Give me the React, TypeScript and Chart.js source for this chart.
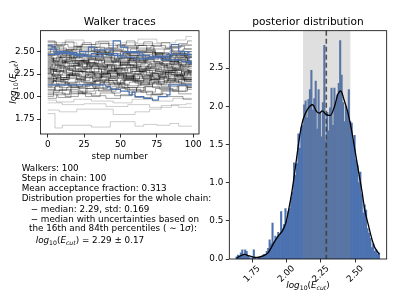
import React, { useEffect, useRef } from "react";
import { Chart, registerables } from "chart.js";

Chart.register(...registerables);

// ---------- Walker traces (left panel) ----------
const lastStep = 99;
const traceXTicks = [0, 25, 50, 75, 100];
const traceYTicks = [1.75, 2.0, 2.25, 2.5];

// each walker: [step, value, step, value, ...] (value changes at accepted moves)
const walkersDark: number[][] = [
  [0, 2.31, 4, 2.28, 11, 2.33, 19, 2.3, 27, 2.36, 38, 2.34, 46, 2.29, 55, 2.32, 63, 2.27, 74, 2.3, 86, 2.35, 93, 2.33],
  [0, 2.22, 6, 2.19, 13, 2.24, 22, 2.21, 31, 2.17, 40, 2.2, 52, 2.23, 60, 2.18, 71, 2.21, 80, 2.16, 90, 2.19],
  [0, 2.45, 3, 2.42, 9, 2.46, 18, 2.4, 25, 2.43, 37, 2.47, 44, 2.44, 57, 2.41, 66, 2.45, 78, 2.42, 88, 2.46, 95, 2.43],
  [0, 2.12, 7, 2.15, 15, 2.11, 24, 2.14, 33, 2.18, 45, 2.15, 53, 2.12, 64, 2.16, 75, 2.13, 84, 2.17, 92, 2.14],
  [0, 2.38, 5, 2.35, 12, 2.39, 21, 2.36, 29, 2.32, 41, 2.35, 50, 2.38, 61, 2.34, 70, 2.37, 82, 2.33, 91, 2.36],
  [0, 2.05, 8, 2.08, 16, 2.04, 26, 2.09, 35, 2.06, 47, 2.1, 56, 2.07, 67, 2.11, 77, 2.08, 89, 2.12],
  [0, 2.52, 4, 2.49, 14, 2.53, 23, 2.5, 34, 2.47, 42, 2.51, 54, 2.48, 62, 2.52, 73, 2.49, 83, 2.46, 94, 2.5],
  [0, 2.27, 3, 2.24, 10, 2.27, 17, 2.23, 28, 2.26, 36, 2.22, 48, 2.25, 58, 2.28, 68, 2.24, 79, 2.27, 87, 2.23, 96, 2.26],
  [0, 2.18, 6, 2.21, 14, 2.25, 23, 2.22, 32, 2.26, 43, 2.23, 51, 2.19, 63, 2.22, 72, 2.26, 85, 2.24, 93, 2.2],
  [0, 2.42, 5, 2.39, 13, 2.43, 20, 2.46, 30, 2.42, 39, 2.39, 49, 2.43, 59, 2.4, 69, 2.44, 81, 2.41, 90, 2.38],
  [0, 2.35, 9, 2.31, 17, 2.28, 26, 2.31, 37, 2.27, 46, 2.3, 55, 2.26, 65, 2.29, 76, 2.32, 88, 2.29],
  [0, 2.08, 5, 2.12, 12, 2.16, 22, 2.13, 31, 2.1, 42, 2.14, 50, 2.18, 60, 2.15, 70, 2.19, 80, 2.22, 92, 2.18],
  [0, 2.48, 7, 2.44, 16, 2.4, 25, 2.37, 35, 2.41, 44, 2.38, 56, 2.42, 66, 2.39, 77, 2.36, 87, 2.4, 97, 2.37],
  [0, 2.25, 4, 2.29, 11, 2.26, 21, 2.31, 30, 2.34, 40, 2.31, 49, 2.35, 60, 2.38, 71, 2.35, 82, 2.31, 91, 2.34],
  [0, 1.98, 6, 2.02, 15, 2.06, 24, 2.03, 33, 2.07, 44, 2.11, 53, 2.08, 64, 2.05, 74, 2.09, 86, 2.06, 95, 2.1],
  [0, 2.58, 5, 2.54, 13, 2.5, 22, 2.53, 32, 2.49, 43, 2.52, 52, 2.55, 61, 2.51, 72, 2.48, 84, 2.51, 94, 2.47],
  [0, 2.3, 8, 2.34, 18, 2.38, 27, 2.34, 38, 2.3, 47, 2.26, 57, 2.3, 67, 2.33, 78, 2.29, 89, 2.25],
  [0, 2.15, 4, 2.18, 12, 2.14, 20, 2.11, 29, 2.14, 39, 2.18, 48, 2.21, 58, 2.17, 69, 2.14, 80, 2.18, 90, 2.15],
  [0, 2.4, 6, 2.44, 15, 2.48, 25, 2.45, 34, 2.49, 45, 2.46, 54, 2.43, 65, 2.47, 75, 2.44, 85, 2.48, 96, 2.45],
  [0, 2.2, 5, 2.17, 14, 2.2, 23, 2.16, 33, 2.19, 42, 2.15, 52, 2.18, 62, 2.14, 73, 2.17, 83, 2.2, 94, 2.17],
  [0, 2.33, 3, 2.36, 10, 2.4, 19, 2.37, 28, 2.41, 37, 2.38, 47, 2.42, 57, 2.39, 67, 2.43, 79, 2.4, 88, 2.44],
  [0, 2.02, 7, 1.99, 16, 2.03, 26, 2.0, 36, 2.04, 46, 2.01, 58, 2.05, 68, 2.02, 79, 2.06, 90, 2.03],
  [0, 2.55, 8, 2.51, 17, 2.47, 26, 2.5, 36, 2.54, 45, 2.5, 55, 2.46, 64, 2.49, 74, 2.45, 86, 2.48, 95, 2.44],
  [0, 2.28, 6, 2.32, 14, 2.29, 24, 2.25, 33, 2.21, 43, 2.24, 52, 2.2, 63, 2.23, 73, 2.2, 84, 2.24, 93, 2.21],
  [0, 2.44, 4, 2.4, 12, 2.37, 21, 2.33, 31, 2.36, 41, 2.32, 50, 2.35, 61, 2.31, 71, 2.34, 82, 2.37, 92, 2.34],
  [0, 2.1, 5, 2.07, 13, 2.1, 22, 2.06, 32, 2.09, 41, 2.13, 51, 2.1, 62, 2.13, 72, 2.1, 83, 2.14, 95, 2.11],
  [0, 2.37, 7, 2.41, 15, 2.44, 24, 2.41, 34, 2.45, 43, 2.42, 53, 2.46, 63, 2.5, 74, 2.47, 84, 2.44, 94, 2.47],
  [0, 2.24, 5, 2.21, 13, 2.24, 22, 2.28, 31, 2.25, 41, 2.28, 51, 2.32, 61, 2.29, 72, 2.26, 81, 2.29, 92, 2.25],
  [0, 2.5, 6, 2.47, 16, 2.44, 25, 2.47, 35, 2.43, 46, 2.4, 56, 2.44, 66, 2.41, 76, 2.44, 87, 2.41, 97, 2.44],
  [0, 2.14, 3, 2.17, 11, 2.21, 20, 2.18, 29, 2.22, 38, 2.26, 49, 2.23, 59, 2.2, 70, 2.24, 81, 2.27, 91, 2.23],
  [0, 2.46, 9, 2.43, 19, 2.4, 28, 2.37, 39, 2.4, 49, 2.36, 59, 2.33, 69, 2.36, 79, 2.39, 90, 2.36],
  [0, 2.0, 4, 2.04, 12, 2.0, 21, 2.04, 30, 2.01, 40, 1.98, 50, 2.02, 60, 1.99, 71, 2.03, 82, 2.0, 93, 1.97],
  [0, 2.62, 5, 2.58, 14, 2.55, 23, 2.58, 33, 2.61, 42, 2.57, 53, 2.54, 62, 2.57, 73, 2.53, 84, 2.56, 94, 2.53],
  [0, 2.2, 7, 2.24, 17, 2.28, 27, 2.24, 37, 2.28, 47, 2.32, 57, 2.28, 67, 2.31, 77, 2.27, 88, 2.3, 97, 2.27],
  [0, 2.32, 5, 2.28, 13, 2.31, 23, 2.27, 32, 2.23, 42, 2.26, 52, 2.22, 62, 2.25, 72, 2.22, 82, 2.25, 92, 2.28],
  [0, 2.41, 4, 2.38, 14, 2.34, 24, 2.38, 34, 2.34, 44, 2.31, 54, 2.34, 64, 2.31, 74, 2.28, 86, 2.31, 96, 2.29],
  [0, 2.17, 6, 2.13, 16, 2.1, 26, 2.13, 36, 2.16, 46, 2.13, 56, 2.16, 66, 2.19, 76, 2.16, 87, 2.19],
  [0, 2.53, 3, 2.56, 11, 2.52, 20, 2.55, 30, 2.51, 40, 2.54, 51, 2.57, 61, 2.54, 71, 2.57, 81, 2.54, 91, 2.57],
  [0, 2.26, 2, 2.3, 6, 2.27, 9, 2.33, 15, 2.29, 19, 2.35, 24, 2.31, 29, 2.27, 35, 2.32, 41, 2.36, 47, 2.31, 53, 2.27, 58, 2.33, 64, 2.37, 69, 2.32, 75, 2.28, 80, 2.34, 86, 2.3, 92, 2.26, 97, 2.31],
  [0, 2.43, 3, 2.39, 8, 2.44, 13, 2.49, 18, 2.44, 23, 2.4, 29, 2.45, 34, 2.5, 40, 2.46, 46, 2.42, 51, 2.47, 57, 2.43, 63, 2.38, 68, 2.43, 74, 2.47, 79, 2.42, 85, 2.38, 91, 2.43, 96, 2.4],
  [0, 2.16, 4, 2.2, 9, 2.16, 14, 2.12, 20, 2.17, 25, 2.21, 31, 2.17, 36, 2.22, 42, 2.18, 48, 2.14, 53, 2.19, 59, 2.24, 65, 2.2, 71, 2.16, 77, 2.21, 83, 2.25, 89, 2.21, 95, 2.17],
  [0, 2.36, 3, 2.33, 7, 2.37, 12, 2.41, 17, 2.37, 22, 2.33, 27, 2.38, 33, 2.34, 39, 2.29, 44, 2.34, 50, 2.39, 56, 2.35, 62, 2.4, 67, 2.44, 73, 2.39, 78, 2.35, 84, 2.39, 90, 2.34, 95, 2.38],
  [0, 2.07, 5, 2.11, 10, 2.07, 16, 2.13, 21, 2.09, 27, 2.14, 32, 2.18, 38, 2.14, 43, 2.09, 49, 2.14, 55, 2.1, 61, 2.06, 66, 2.11, 72, 2.15, 78, 2.11, 84, 2.07, 90, 2.12, 96, 2.08],
  [0, 2.49, 2, 2.53, 7, 2.48, 12, 2.52, 18, 2.56, 23, 2.51, 28, 2.55, 34, 2.51, 40, 2.47, 45, 2.52, 51, 2.48, 57, 2.53, 62, 2.57, 68, 2.52, 74, 2.48, 80, 2.53, 86, 2.49, 93, 2.53],
  [0, 2.29, 4, 2.25, 9, 2.21, 15, 2.26, 21, 2.22, 26, 2.27, 32, 2.31, 37, 2.26, 43, 2.22, 48, 2.27, 54, 2.23, 60, 2.28, 66, 2.24, 71, 2.2, 77, 2.25, 83, 2.29, 88, 2.24, 94, 2.28],
  [0, 2.21, 3, 2.25, 8, 2.29, 13, 2.24, 19, 2.28, 25, 2.33, 30, 2.28, 36, 2.24, 41, 2.29, 47, 2.25, 53, 2.2, 58, 2.25, 64, 2.3, 70, 2.26, 76, 2.22, 81, 2.27, 87, 2.32, 93, 2.27, 98, 2.23],
  [0, 2.39, 4, 2.43, 10, 2.38, 15, 2.34, 21, 2.39, 27, 2.35, 32, 2.4, 38, 2.44, 44, 2.39, 50, 2.35, 55, 2.4, 61, 2.36, 67, 2.41, 72, 2.45, 78, 2.4, 84, 2.36, 89, 2.41, 95, 2.37],
  [0, 2.11, 3, 2.14, 8, 2.1, 14, 2.15, 19, 2.19, 25, 2.15, 31, 2.11, 36, 2.16, 42, 2.2, 47, 2.16, 53, 2.21, 59, 2.17, 64, 2.13, 70, 2.18, 76, 2.14, 82, 2.19, 87, 2.23, 93, 2.19],
  [0, 2.56, 5, 2.52, 11, 2.48, 16, 2.52, 22, 2.47, 28, 2.51, 33, 2.55, 39, 2.5, 45, 2.46, 50, 2.5, 56, 2.46, 62, 2.5, 68, 2.54, 73, 2.49, 79, 2.45, 85, 2.5, 91, 2.46, 96, 2.5],
  [0, 2.03, 4, 2.07, 10, 2.03, 16, 2.08, 21, 2.04, 27, 2.09, 33, 2.13, 38, 2.08, 44, 2.04, 50, 2.09, 55, 2.05, 61, 2.1, 67, 2.06, 72, 2.02, 78, 2.07, 84, 2.11, 90, 2.06, 96, 2.1],
  [0, 2.34, 2, 2.3, 7, 2.34, 12, 2.3, 18, 2.35, 23, 2.39, 29, 2.34, 35, 2.3, 40, 2.35, 46, 2.31, 51, 2.36, 57, 2.32, 63, 2.28, 68, 2.33, 74, 2.37, 80, 2.32, 85, 2.36, 91, 2.32, 97, 2.36],
  [0, 2.46, 5, 2.5, 10, 2.46, 16, 2.42, 22, 2.46, 27, 2.42, 33, 2.47, 38, 2.43, 44, 2.48, 50, 2.44, 55, 2.4, 61, 2.45, 66, 2.49, 72, 2.45, 78, 2.41, 84, 2.46, 89, 2.42, 95, 2.46],
  [0, 2.19, 4, 2.23, 9, 2.19, 15, 2.24, 20, 2.2, 26, 2.16, 32, 2.21, 37, 2.25, 43, 2.21, 49, 2.26, 54, 2.22, 60, 2.18, 66, 2.23, 71, 2.19, 77, 2.24, 83, 2.2, 88, 2.16, 94, 2.21],
  [0, 2.61, 6, 2.57, 12, 2.61, 18, 2.56, 24, 2.6, 30, 2.55, 36, 2.59, 42, 2.54, 48, 2.58, 54, 2.62, 60, 2.57, 66, 2.61, 72, 2.56, 78, 2.6, 84, 2.55, 90, 2.59, 96, 2.62],
  [0, 2.26, 3, 2.23, 9, 2.19, 14, 2.23, 20, 2.19, 26, 2.24, 31, 2.2, 37, 2.25, 42, 2.29, 48, 2.24, 54, 2.2, 59, 2.25, 65, 2.21, 71, 2.26, 76, 2.22, 82, 2.18, 88, 2.23, 94, 2.27],
  [0, 2.31, 5, 2.35, 11, 2.39, 16, 2.35, 22, 2.4, 28, 2.44, 33, 2.4, 39, 2.36, 45, 2.41, 50, 2.37, 56, 2.42, 62, 2.46, 67, 2.42, 73, 2.38, 79, 2.43, 84, 2.39, 90, 2.44, 96, 2.4],
];

const walkersLight: number[][] = [
  [0, 1.81, 5, 1.65, 10, 1.68, 30, 1.66, 43, 1.72, 60, 1.67, 66, 1.69, 75, 1.68, 84, 1.7, 90, 1.67],
  [0, 1.93, 10, 1.91, 25, 1.92, 40, 1.89, 55, 1.91, 70, 1.88, 85, 1.91, 95, 1.92],
  [0, 1.85, 8, 1.83, 20, 1.86, 45, 1.8, 60, 1.83, 70, 1.86, 78, 1.9, 90, 1.88],
  [0, 2.6, 12, 2.63, 25, 2.58, 35, 2.62, 50, 2.6, 62, 2.64, 75, 2.6, 88, 2.63, 95, 2.67],
  [0, 1.96, 6, 1.94, 18, 1.97, 30, 1.95, 45, 1.93, 58, 1.97, 72, 1.95, 86, 1.98],
  [0, 2.57, 10, 2.6, 20, 2.56, 33, 2.59, 47, 2.56, 60, 2.59, 78, 2.55, 92, 2.58],
];

const walkersBlue: number[][] = [
  [0, 2.57, 3, 2.55, 5, 2.48, 18, 2.46, 22, 2.5, 28, 2.55, 32, 2.52, 45, 2.62, 50, 2.55, 55, 2.5, 63, 2.46, 70, 2.44, 85, 2.58, 90, 2.5, 97, 2.37],
  [0, 2.47, 8, 2.49, 20, 2.45, 30, 2.48, 42, 2.46, 52, 2.49, 65, 2.43, 78, 2.41, 92, 2.39],
  [0, 2.53, 6, 2.5, 15, 2.47, 27, 2.45, 38, 2.48, 48, 2.44, 60, 2.42, 72, 2.45, 82, 2.47, 93, 2.47],
  [0, 2.13, 40, 2.11, 43, 2.08, 50, 2.06, 56, 2.02, 58, 2.05, 60, 2.0, 66, 1.98, 72, 1.96, 76, 2.0, 82, 2.02, 84, 2.13],
];

// ---------- Posterior distribution (right panel) ----------
const histStart = 1.6325;
const histBinWidth = 0.01046;
const histDensity = [
  0.03, 0.05, 0.03, 0.08, 0.12, 0.06, 0.12, 0.1, 0.04, 0.02,
  0.0, 0.02, 0.12, 0.02, 0.0, 0.02, 0.03, 0.02, 0.04, 0.06,
  0.05, 0.1, 0.14, 0.25, 0.2, 0.47, 0.22, 0.3, 0.28, 0.35,
  0.3, 0.62, 0.4, 0.45, 0.66, 0.5, 0.62, 0.66, 0.8, 0.88,
  1.26, 1.1, 1.25, 1.64, 1.45, 1.72, 1.75, 2.02, 2.07, 1.85,
  2.09, 2.22, 2.47, 1.95, 2.1, 2.33, 1.7, 2.22, 1.92, 1.6,
  2.05, 2.8, 1.55, 1.92, 1.68, 1.98, 2.24, 1.75, 2.24, 2.05,
  2.15, 2.3, 2.86, 2.41, 2.05, 1.8, 2.0, 1.95, 2.22, 1.8,
  1.78, 1.55, 1.62, 1.3, 1.23, 1.0, 1.14, 0.85, 0.6, 0.71,
  0.64, 0.4, 0.34, 0.27, 0.15, 0.2, 0.1, 0.12, 0.06, 0.08,
];

const kdeX = [
  1.637, 1.665, 1.697, 1.73, 1.76, 1.79, 1.83, 1.866, 1.89, 1.915,
  1.94, 1.975, 2.0, 2.02, 2.04, 2.06, 2.08, 2.1, 2.12, 2.15,
  2.19, 2.22, 2.24, 2.26, 2.29, 2.32, 2.35, 2.375, 2.395, 2.42,
  2.445, 2.47, 2.5, 2.525, 2.55, 2.57, 2.595, 2.62, 2.64, 2.66, 2.675,
];
const kdeY = [
  0.01, 0.04, 0.06, 0.04, 0.025, 0.02, 0.04, 0.08, 0.15, 0.23,
  0.3, 0.38, 0.5, 0.68, 0.88, 1.13, 1.4, 1.65, 1.82, 1.95,
  2.02, 1.93, 1.91, 1.94, 1.89, 1.88, 2.0, 2.16, 2.2, 2.08,
  1.93, 1.72, 1.41, 1.14, 0.88, 0.64, 0.45, 0.27, 0.16, 0.1, 0.06,
];

const postXTicks = [1.75, 2.0, 2.25, 2.5];
const postYTicks = [0, 0.5, 1.0, 1.5, 2.0, 2.5];
const medianValue = 2.29;
const p16Value = 2.121;
const p84Value = 2.465;

const FONT = "'DejaVu Sans', sans-serif";
const BLUE = "#4c72b0";

function stepPoints(cp: number[]) {
  const pts: { x: number; y: number }[] = [];
  for (let i = 0; i < cp.length; i += 2) pts.push({ x: cp[i], y: cp[i + 1] });
  pts.push({ x: lastStep, y: cp[cp.length - 1] });
  return pts;
}

const framePlugin = {
  id: "frame",
  afterDraw(chart: any) {
    const { ctx, chartArea: a } = chart;
    ctx.save();
    ctx.strokeStyle = "#000";
    ctx.lineWidth = 0.8;
    ctx.strokeRect(a.left, a.top, a.right - a.left, a.bottom - a.top);
    ctx.restore();
  },
};

const bandPlugin = {
  id: "band",
  afterDatasetDraw(chart: any, args: any) {
    if (args.meta.type !== "bar") return;
    const { ctx, chartArea: a, scales } = chart;
    const x = scales.x;
    const x0 = x.getPixelForValue(p16Value);
    const x1 = x.getPixelForValue(p84Value);
    ctx.save();
    ctx.fillStyle = "rgba(128,128,128,0.25)";
    ctx.fillRect(x0, a.top, x1 - x0, a.bottom - a.top);
    const xm = x.getPixelForValue(medianValue);
    ctx.strokeStyle = "rgba(60,60,60,0.85)";
    ctx.lineWidth = 1.6;
    ctx.setLineDash([5, 3]);
    ctx.beginPath();
    ctx.moveTo(xm, a.top);
    ctx.lineTo(xm, a.bottom);
    ctx.stroke();
    ctx.restore();
  },
};

const rotatedTicksPlugin = {
  id: "rotTicks",
  afterDraw(chart: any) {
    const { ctx, chartArea: a, scales } = chart;
    const x = scales.x;
    ctx.save();
    ctx.font = `8.8px ${FONT}`;
    ctx.fillStyle = "#000";
    ctx.textAlign = "center";
    ctx.textBaseline = "middle";
    for (const v of postXTicks) {
      const px = x.getPixelForValue(v);
      ctx.save();
      ctx.translate(px, a.bottom + 15);
      ctx.rotate(-Math.PI / 4);
      ctx.fillText(v.toFixed(2), 0, 0);
      ctx.restore();
    }
    ctx.restore();
  },
};

const tickGrid = {
  drawOnChartArea: false,
  drawTicks: true,
  tickLength: 3.5,
  color: "#000",
  lineWidth: 0.8,
};

function Label(props: { x: number; y: number; size: number; rotate?: boolean; children: any }) {
  return (
    <div
      style={{
        position: "absolute",
        left: props.x,
        top: props.y,
        fontSize: props.size,
        lineHeight: 1,
        whiteSpace: "nowrap",
        transform: props.rotate ? "translate(-50%,-50%) rotate(-90deg)" : "translate(-50%,-50%)",
      }}
    >
      {props.children}
    </div>
  );
}

const subStyle: React.CSSProperties = { fontSize: "0.7em", position: "relative", top: "0.25em" };

function LogEcut() {
  return (
    <span>
      <i>log</i>
      <span style={subStyle}>10</span>(<i>E</i>
      <span style={subStyle}>
        <i>cut</i>
      </span>
      )
    </span>
  );
}

function TextLine(props: { x: number; y: number; children: any }) {
  return (
    <div
      style={{
        position: "absolute",
        left: props.x,
        top: props.y - 4.4,
        fontSize: 8.8,
        lineHeight: 1,
        whiteSpace: "nowrap",
      }}
    >
      {props.children}
    </div>
  );
}

export default function App() {
  const leftRef = useRef<HTMLCanvasElement>(null);
  const rightRef = useRef<HTMLCanvasElement>(null);

  useEffect(() => {
    const tickFont = { family: FONT, size: 8.8 };

    const datasets: any[] = [];
    walkersBlue.forEach((w) =>
      datasets.push({ data: stepPoints(w), borderColor: BLUE, borderWidth: 1.2, stepped: true, order: 0 })
    );
    walkersDark.forEach((w) =>
      datasets.push({ data: stepPoints(w), borderColor: "rgba(0,0,0,0.36)", borderWidth: 1, stepped: true, order: 1 })
    );
    walkersLight.forEach((w) =>
      datasets.push({ data: stepPoints(w), borderColor: "rgba(0,0,0,0.2)", borderWidth: 1, stepped: true, order: 2 })
    );

    const left = new Chart(leftRef.current!, {
      type: "line",
      data: { datasets },
      options: {
        animation: false,
        responsive: false,
        devicePixelRatio: 1,
        events: [],
        layout: { padding: { top: 30.7, right: 6, left: 0, bottom: 0 } },
        plugins: { legend: { display: false }, tooltip: { enabled: false }, title: { display: false } },
        elements: { point: { radius: 0 }, line: { tension: 0 } },
        scales: {
          x: {
            type: "linear",
            min: -4.95,
            max: 103.95,
            afterBuildTicks: (s: any) => {
              s.ticks = traceXTicks.map((v) => ({ value: v }));
            },
            afterFit: (s: any) => {
              s.height = 26;
            },
            ticks: { font: tickFont, color: "#000", padding: 2, maxRotation: 0, callback: (v: any) => String(v) },
            grid: tickGrid,
            border: { display: false },
          },
          y: {
            type: "linear",
            min: 1.583,
            max: 2.734,
            afterBuildTicks: (s: any) => {
              s.ticks = traceYTicks.map((v) => ({ value: v }));
            },
            afterFit: (s: any) => {
              s.width = 40.5;
            },
            ticks: { font: tickFont, color: "#000", padding: 2.5, callback: (v: any) => Number(v).toFixed(2) },
            grid: tickGrid,
            border: { display: false },
          },
        },
      } as any,
      plugins: [framePlugin],
    });

    const histData = histDensity.map((d, i) => ({ x: histStart + (i + 0.5) * histBinWidth, y: d }));
    const kdeData = kdeX.map((x, i) => ({ x, y: kdeY[i] }));

    const right = new Chart(rightRef.current!, {
      type: "bar",
      data: {
        datasets: [
          {
            type: "line",
            data: kdeData,
            borderColor: "#000",
            borderWidth: 1.3,
            pointRadius: 0,
            cubicInterpolationMode: "monotone",
            order: 0,
          } as any,
          {
            type: "bar",
            data: histData,
            backgroundColor: BLUE,
            borderWidth: 0,
            barPercentage: 1,
            categoryPercentage: 1,
            order: 1,
          } as any,
        ],
      },
      options: {
        animation: false,
        responsive: false,
        devicePixelRatio: 1,
        events: [],
        layout: { padding: { top: 30.7, right: 20.3, left: 0, bottom: 0 } },
        plugins: { legend: { display: false }, tooltip: { enabled: false }, title: { display: false } },
        scales: {
          x: {
            type: "linear",
            offset: false,
            min: 1.585,
            max: 2.729,
            afterBuildTicks: (s: any) => {
              s.ticks = postXTicks.map((v) => ({ value: v }));
            },
            afterFit: (s: any) => {
              s.height = 46;
            },
            ticks: { display: false },
            grid: { ...tickGrid, offset: false },
            border: { display: false },
          },
          y: {
            type: "linear",
            min: 0,
            max: 2.99,
            afterBuildTicks: (s: any) => {
              s.ticks = postYTicks.map((v) => ({ value: v }));
            },
            afterFit: (s: any) => {
              s.width = 24.3;
            },
            ticks: { font: tickFont, color: "#000", padding: 2.5, callback: (v: any) => Number(v).toFixed(1) },
            grid: tickGrid,
            border: { display: false },
          },
        },
      } as any,
      plugins: [bandPlugin, framePlugin, rotatedTicksPlugin],
    });

    return () => {
      left.destroy();
      right.destroy();
    };
  }, []);

  return (
    <div
      style={{
        position: "fixed",
        left: 0,
        top: 0,
        width: 407,
        height: 305,
        background: "#fff",
        color: "#000",
        fontFamily: FONT,
        overflow: "hidden",
      }}
    >
      <canvas ref={leftRef} width={205} height={160} style={{ position: "absolute", left: 0, top: 0 }} />
      <canvas ref={rightRef} width={202} height={305} style={{ position: "absolute", left: 205, top: 0 }} />

      <Label x={119.7} y={21} size={10.6}>Walker traces</Label>
      <Label x={308} y={21} size={10.6}>posterior distribution</Label>
      <Label x={119.7} y={155.5} size={8.8}>step number</Label>
      <Label x={13} y={82.4} size={8.8} rotate>
        <LogEcut />
      </Label>
      <Label x={308} y={285} size={8.8}>
        <LogEcut />
      </Label>

      <TextLine x={21.7} y={168.7}>Walkers: 100</TextLine>
      <TextLine x={21.7} y={178.7}>Steps in chain: 100</TextLine>
      <TextLine x={21.7} y={188.7}>Mean acceptance fraction: 0.313</TextLine>
      <TextLine x={21.7} y={198.7}>Distribution properties for the whole chain:</TextLine>
      <TextLine x={30.7} y={209.3}>− median: 2.29, std: 0.169</TextLine>
      <TextLine x={30.7} y={219.3}>− median with uncertainties based on</TextLine>
      <TextLine x={29} y={228.7}>
        the 16th and 84th percentiles ( ∼ 1<i>σ</i>):
      </TextLine>
      <TextLine x={35.7} y={240.7}>
        <LogEcut /> = 2.29 ± 0.17
      </TextLine>
    </div>
  );
}
